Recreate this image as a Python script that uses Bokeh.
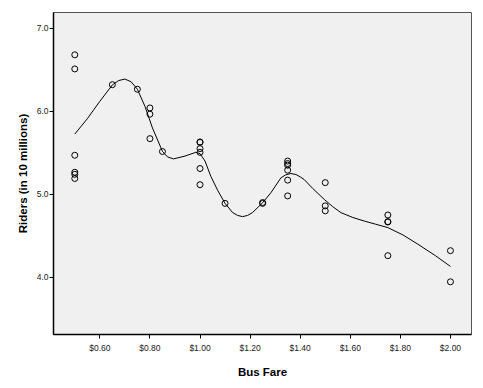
from bokeh.plotting import figure
from bokeh.models import FixedTicker, NumeralTickFormatter, Range1d
from bokeh.embed import file_html
from bokeh.resources import INLINE

# Observed data points
fare = [0.50, 0.50, 0.50, 0.50, 0.50, 0.50,
        0.65, 0.75,
        0.80, 0.80, 0.80,
        0.85,
        1.00, 1.00, 1.00, 1.00, 1.00, 1.00,
        1.10,
        1.25, 1.25,
        1.35, 1.35, 1.35, 1.35, 1.35, 1.35,
        1.50, 1.50, 1.50,
        1.75, 1.75, 1.75, 1.75,
        2.00, 2.00]
riders = [6.68, 6.51, 5.47, 5.265, 5.24, 5.19,
          6.32, 6.265,
          6.04, 5.965, 5.67,
          5.515,
          5.63, 5.625, 5.55, 5.505, 5.31, 5.115,
          4.89,
          4.89, 4.90,
          5.40, 5.37, 5.35, 5.29, 5.17, 4.98,
          5.14, 4.86, 4.80,
          4.75, 4.67, 4.665, 4.26,
          4.32, 3.945]

# Loess fit line
fit_x = [0.50, 0.55, 0.60, 0.65, 0.675, 0.70, 0.725, 0.75, 0.78, 0.81, 0.85, 0.87,
         0.894, 0.94, 0.983, 1.00, 1.02, 1.043, 1.07, 1.10, 1.13, 1.15, 1.17, 1.19,
         1.21, 1.25, 1.283, 1.323, 1.343, 1.363, 1.383, 1.40, 1.416, 1.45, 1.496,
         1.53, 1.563, 1.61, 1.656, 1.70, 1.75, 1.81, 1.87, 1.94, 2.00]
fit_y = [5.725, 5.91, 6.12, 6.317, 6.37, 6.388, 6.355, 6.265, 6.06, 5.80, 5.517, 5.45,
         5.426, 5.46, 5.505, 5.49, 5.40, 5.217, 5.05, 4.89, 4.78, 4.745, 4.73, 4.745,
         4.78, 4.898, 5.018, 5.198, 5.235, 5.25, 5.238, 5.21, 5.177, 5.07, 4.938,
         4.85, 4.778, 4.72, 4.677, 4.64, 4.598, 4.51, 4.398, 4.26, 4.13]

x_ticks = [0.6, 0.8, 1.0, 1.2, 1.4, 1.6, 1.8, 2.0]
y_ticks = [4.0, 5.0, 6.0, 7.0]

p = figure(width=475, height=380, output_backend="svg", toolbar_location=None,
           x_range=Range1d(0.415, 2.084), y_range=Range1d(3.31, 7.19),
           min_border_left=53, min_border_right=4, min_border_top=12, min_border_bottom=44)
p.background_fill_color = "#F0F0F0"
p.border_fill_color = "white"
p.outline_line_color = "#555555"
p.outline_line_width = 1
p.grid.visible = False

p.line(fit_x, fit_y, line_color="black", line_width=1)
p.scatter(fare, riders, marker="circle", size=6, fill_color=None,
          line_color="black", line_width=1)

for ax in (p.xaxis[0], p.yaxis[0]):
    ax.axis_line_color = "black"
    ax.axis_line_width = 1.5
    ax.major_tick_line_color = "black"
    ax.major_tick_in = 0
    ax.major_tick_out = 4
    ax.minor_tick_line_color = None
    ax.major_label_text_font = "Liberation Sans"
    ax.major_label_text_font_size = "8.5px"
    ax.major_label_text_color = "#222222"
    ax.axis_label_text_font = "Liberation Sans"
    ax.axis_label_text_font_style = "bold"
    ax.axis_label_text_font_size = "11.5px"
    ax.axis_label_text_color = "black"

p.xaxis.ticker = FixedTicker(ticks=x_ticks)
p.xaxis.formatter = NumeralTickFormatter(format="$0.00")
p.xaxis.axis_label = "Bus Fare"
p.xaxis.major_label_standoff = 4
p.xaxis.axis_label_standoff = 10

p.yaxis.ticker = FixedTicker(ticks=y_ticks)
p.yaxis.formatter = NumeralTickFormatter(format="0.0")
p.yaxis.axis_label = "Riders (in 10 millions)"
p.yaxis.major_label_standoff = 1
p.yaxis.axis_label_standoff = 5

open("out.html", "w").write(file_html(p, INLINE))
